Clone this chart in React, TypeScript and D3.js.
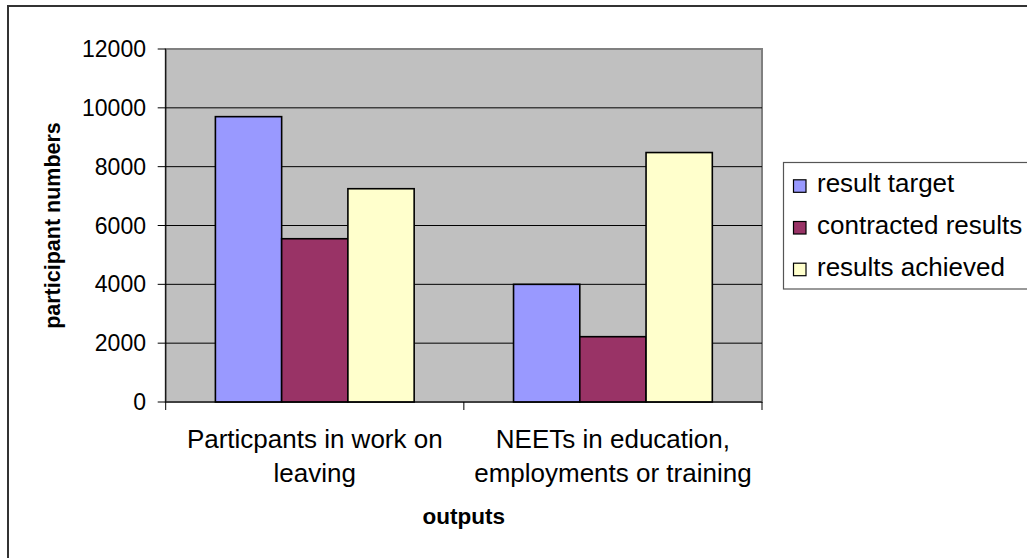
import React from "react";
import * as d3 from "d3";

const categories: string[][] = [
  ["Particpants in work on", "leaving"],
  ["NEETs in education,", "employments or training"],
];
const seriesNames = ["result target", "contracted results", "results achieved"];
const resultTarget = [9700, 4000];
const contractedResults = [5550, 2220];
const resultsAchieved = [7250, 8480];
const yTicks = [0, 2000, 4000, 6000, 8000, 10000, 12000];
const colors = ["#9999FF", "#993366", "#FFFFCC"];

const W = 1027;
const H = 558;
const plot = { left: 165.7, right: 762, top: 49, bottom: 402 };
const FONT = "'Liberation Sans', Arial, sans-serif";

export default function App() {
  const series = [resultTarget, contractedResults, resultsAchieved];
  const catKeys = categories.map((_, i) => String(i));
  const x0 = d3.scaleBand<string>().domain(catKeys).range([plot.left, plot.right]).paddingInner(0).paddingOuter(0);
  const x1 = d3
    .scaleBand<string>()
    .domain(seriesNames)
    .range([0, x0.bandwidth()])
    .paddingInner(0)
    .paddingOuter(0.75);
  const y = d3.scaleLinear().domain([0, 12000]).range([plot.bottom, plot.top]);

  const boundaries = [plot.left, ...catKeys.map((k) => (x0(k) as number) + x0.bandwidth())];

  return (
    <svg
      width={W}
      height={H}
      style={{ position: "absolute", left: 0, top: 0, background: "#fff" }}
      fontFamily={FONT}
    >
      <rect x={0} y={0} width={W} height={H} fill="#fff" />
      {/* outer chart border */}
      <rect x={8} y={6} width={1100} height={700} fill="none" stroke="#333" strokeWidth={2} />

      {/* plot area */}
      <rect
        x={plot.left}
        y={plot.top}
        width={plot.right - plot.left}
        height={plot.bottom - plot.top}
        fill="#C0C0C0"
        stroke="#808080"
        strokeWidth={2}
      />
      {yTicks.slice(1, -1).map((t) => (
        <line key={t} x1={plot.left} x2={plot.right} y1={y(t)} y2={y(t)} stroke="#000" strokeWidth={1} />
      ))}

      {/* bars */}
      {series.map((vals, si) =>
        vals.map((v, ci) => {
          const xx = (x0(catKeys[ci]) as number) + (x1(seriesNames[si]) as number);
          return (
            <rect
              key={`${si}-${ci}`}
              x={xx}
              y={y(v)}
              width={x1.bandwidth()}
              height={y(0) - y(v)}
              fill={colors[si]}
              stroke="#000"
              strokeWidth={1.6}
            />
          );
        })
      )}

      {/* axes */}
      <line x1={plot.left} x2={plot.left} y1={plot.top} y2={plot.bottom} stroke="#000" strokeWidth={1} />
      <line x1={plot.left} x2={plot.right} y1={plot.bottom} y2={plot.bottom} stroke="#000" strokeWidth={1} />
      {yTicks.map((t) => (
        <g key={t}>
          <line x1={plot.left - 8} x2={plot.left} y1={y(t)} y2={y(t)} stroke="#000" strokeWidth={1} />
          <text x={146} y={y(t)} dy="0.35em" textAnchor="end" fontSize={23} fill="#000">
            {t}
          </text>
        </g>
      ))}
      {boundaries.map((b, i) => (
        <line key={i} x1={b} x2={b} y1={plot.bottom} y2={plot.bottom + 8} stroke="#000" strokeWidth={1} />
      ))}

      {/* category labels */}
      {categories.map((lines, ci) => {
        const cx = (x0(catKeys[ci]) as number) + x0.bandwidth() / 2;
        return (
          <text key={ci} textAnchor="middle" fontSize={26} fill="#000">
            {lines.map((l, li) => (
              <tspan key={li} x={cx} y={448 + li * 33.5}>
                {l}
              </tspan>
            ))}
          </text>
        );
      })}

      {/* axis titles */}
      <text x={(plot.left + plot.right) / 2} y={524} textAnchor="middle" fontSize={22.5} fontWeight="bold" fill="#000">
        outputs
      </text>
      <text
        transform={`translate(60, ${(plot.top + plot.bottom) / 2}) rotate(-90)`}
        textAnchor="middle"
        fontSize={21.5}
        fontWeight="bold"
        fill="#000"
      >
        participant numbers
      </text>

      {/* legend */}
      <rect x={783.5} y={162.5} width={300} height={126.5} fill="#fff" stroke="#555" strokeWidth={1.2} />
      {seriesNames.map((s, i) => {
        const by = 192.3 + i * 41.7;
        return (
          <g key={s}>
            <rect x={793.5} y={by - 12.5} width={12.5} height={12.5} fill={colors[i]} stroke="#000" strokeWidth={1.2} />
            <text x={817} y={by} fontSize={26} fill="#000">
              {s}
            </text>
          </g>
        );
      })}
    </svg>
  );
}
